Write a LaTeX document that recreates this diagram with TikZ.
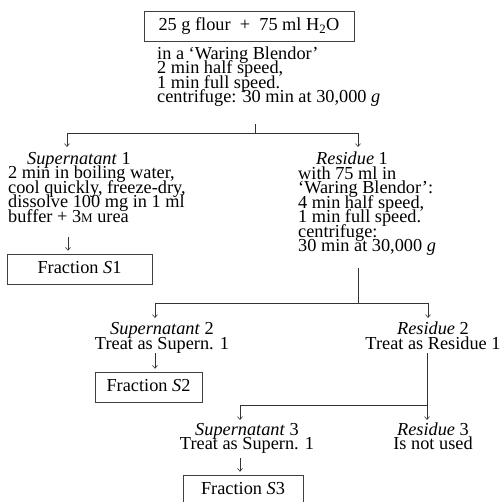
\documentclass[tikz,border=0pt]{standalone}
\usepackage{fontspec}
\setmainfont{Liberation Serif}
\usetikzlibrary{arrows.meta}
\begin{document}
\begin{tikzpicture}[x=1pt,y=-1pt,
  txt/.style={font={\fontsize{18.3}{14.5}\selectfont\lineskiplimit=-\maxdimen}, inner sep=0pt},
  txtl/.style={txt, align=left, anchor=base west},
  txtc/.style={txt, align=center, anchor=base},
  box/.style={draw=black!75, line width=0.5pt, minimum height=30pt,
    text height=12.5pt, text depth=4pt, inner sep=0pt,
    font={\fontsize{18.3}{14.5}\selectfont}},
  wire/.style={draw=black!80, line width=0.6pt},
  arr/.style={wire, -{Straight Barb[length=3pt,width=5pt]}}]
\useasboundingbox (0,0) rectangle (502,501);
\clip (0,0) rectangle (502,501);

% starting material and first extraction (text nodes sit on their last baseline)
\node[box, minimum width=210pt] (flour) at (249,26.5)
  {25 g flour\enspace+\enspace75 ml H\textsubscript{2}O};
\node[txtl] (blend) at (157,102.5)
  {in a ‘Waring Blendor’\\2 min half speed,\\1 min full speed.\\centrifuge: 30 min at 30,000 \textit{g}};

% first split
\node[txtl] (sup1) at (8,222)
  {\hspace*{19pt}\textit{Supernatant} 1\\2 min in boiling water,\\cool quickly, freeze-dry,\\dissolve 100 mg in 1 ml\\buffer + 3{\fontsize{13}{13}\selectfont M} urea};
\node[txtl] (res1) at (298,251.5)
  {\hspace*{18pt}\textit{Residue} 1\\with 75 ml in\\‘Waring Blendor’:\\4 min half speed,\\1 min full speed.\\centrifuge:\\30 min at 30,000 \textit{g}};
\node[box, minimum width=145pt] (fs1) at (79.5,269) {Fraction \textit{S}1};

% second split
\node[txtc] (sup2) at (162,349) {\textit{Supernatant} 2\\Treat as Supern. 1};
\node[txtc] (res2) at (433,349) {\textit{Residue} 2\\Treat as Residue 1};
\node[box, minimum width=107pt] (fs2) at (148.5,387) {Fraction \textit{S}2};

% third split
\node[txtc] (sup3) at (247,449.5) {\textit{Supernatant} 3\\Treat as Supern. 1};
\node[txtc] (res3) at (433,449.5) {\textit{Residue} 3\\Is not used};
\node[box, minimum width=120pt] (fs3) at (243,490) {Fraction \textit{S}3};

% junction points of the connectors
\coordinate (b1) at (255,124);  \coordinate (j1) at (255,133);
\coordinate (s1in) at (67,147); \coordinate (r1in) at (358,147);
\coordinate (s1out) at (68,237);
\coordinate (b2) at (358,268);  \coordinate (j2) at (358,303);
\coordinate (s2in) at (155,318); \coordinate (r2in) at (428,318);
\coordinate (s2out) at (155,353);
\coordinate (b3) at (427,353);  \coordinate (j3) at (427,405);
\coordinate (s3in) at (240,420); \coordinate (r3in) at (427,420);
\coordinate (s3out) at (240,458);

\draw[wire] (b1) -- (j1);
\draw[arr] (j1) -| (s1in);
\draw[arr] (j1) -| (r1in);
\draw[arr, shorten >=3pt] (s1out) -- (fs1.north -| s1out);

\draw[wire] (b2) -- (j2);
\draw[arr] (j2) -| (s2in);
\draw[arr] (j2) -| (r2in);
\draw[arr, shorten >=3pt] (s2out) -- (fs2.north -| s2out);

\draw[wire] (b3) -- (j3);
\draw[arr] (j3) -| (s3in);
\draw[arr] (j3) -- (r3in);
\draw[arr, shorten >=3pt] (s3out) -- (fs3.north -| s3out);
\end{tikzpicture}
\end{document}
